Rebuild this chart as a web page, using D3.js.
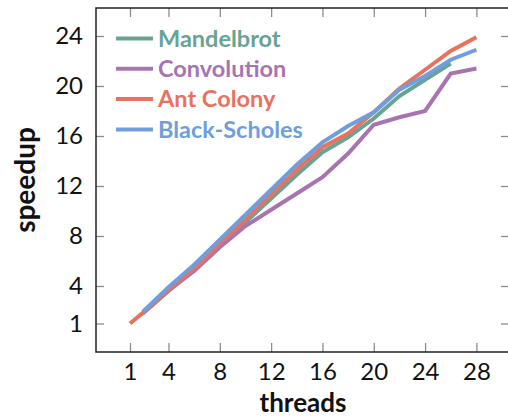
<!DOCTYPE html>
<html>
<head>
<meta charset="utf-8">
<script src="https://cdn.jsdelivr.net/npm/d3@7"></script>
<style>
  body { margin: 0; background: #fff; }
  svg { display: block; font-family: Lato, "Open Sans", sans-serif; }
</style>
</head>
<body>
<svg id="chart" width="508" height="418"></svg>
<script>
'use strict';

// data
var threads = [1, 2, 4, 6, 8, 10, 12, 14, 16, 18, 20, 22, 24, 26, 28];
var mandelbrot   = [null, 1.8, 3.6, 5.3, 7.3, 9.1, 11.0, 12.9, 14.7, 15.9, 17.4, 19.2, 20.5, 21.8, null];
var convolution  = [null, 1.85, 3.65, 5.2, 7.1, 8.8, 10.1, 11.4, 12.7, 14.6, 16.9, 17.5, 18.0, 21.0, 21.4];
var antColony    = [1.0, 1.85, 3.7, 5.4, 7.4, 9.3, 11.3, 13.3, 15.1, 16.2, 17.9, 19.8, 21.3, 22.8, 23.9];
var blackScholes = [null, 1.95, 3.9, 5.7, 7.7, 9.7, 11.7, 13.7, 15.5, 16.8, 17.9, 19.7, 20.8, 22.1, 22.9];

var seriesNames  = ['Mandelbrot', 'Convolution', 'Ant Colony', 'Black-Scholes'];
var seriesValues = [mandelbrot, convolution, antColony, blackScholes];
var seriesColors = ['#68a394', '#a874b0', '#e8725f', '#6e9fdc'];

var xTicks = [1, 4, 8, 12, 16, 20, 24, 28];
var yTicks = [1, 4, 8, 12, 16, 20, 24];

var svg = d3.select('#chart');

var box = {left: 96, top: 8, right: 509, bottom: 352};

var xScale = d3.scaleLinear()
    .domain([-1.65, 30.54])
    .range([box.left, box.right]);

var yScale = d3.scaleLinear()
    .domain([-1.28, 26.24])
    .range([box.bottom, box.top]);

// ticks, all pointing inward
var xAxis = d3.axisBottom(xScale).tickValues(xTicks).tickSize(-9).tickPadding(11);
var xAxisTop = d3.axisTop(xScale).tickValues(xTicks).tickSize(-9).tickFormat('');
var yAxis = d3.axisLeft(yScale).tickValues(yTicks).tickSize(-8).tickPadding(13);
var yAxisRight = d3.axisRight(yScale).tickValues(yTicks).tickSize(-8).tickFormat('');

svg.append('g')
    .attr('transform', 'translate(0,' + box.bottom + ')')
    .call(xAxis);
svg.append('g')
    .attr('transform', 'translate(0,' + box.top + ')')
    .call(xAxisTop);
svg.append('g')
    .attr('transform', 'translate(' + box.left + ',0)')
    .call(yAxis);
svg.append('g')
    .attr('transform', 'translate(' + box.right + ',0)')
    .call(yAxisRight);

svg.selectAll('.domain').remove();
svg.selectAll('.tick line').attr('stroke', '#8c8c8c').attr('stroke-width', 1.3);
svg.selectAll('.tick text')
    .attr('fill', '#111')
    .style('font-size', '24px')
    .style('font-family', 'Lato, "Open Sans", sans-serif');

// frame
svg.append('rect')
    .attr('x', box.left)
    .attr('y', box.top)
    .attr('width', box.right - box.left)
    .attr('height', box.bottom - box.top)
    .attr('fill', 'none')
    .attr('stroke', '#222')
    .attr('stroke-width', 1.5);

// lines
var line = d3.line()
    .defined(function(d) { return d.v != null; })
    .x(function(d) { return xScale(d.t); })
    .y(function(d) { return yScale(d.v); });

seriesValues.forEach(function(vals, i) {
    var pts = threads.map(function(t, j) { return {t: t, v: vals[j]}; });
    svg.append('path')
        .datum(pts)
        .attr('fill', 'none')
        .attr('stroke', seriesColors[i])
        .attr('stroke-width', 4)
        .attr('d', line);
});

// legend
var legend = svg.append('g');
seriesNames.forEach(function(name, i) {
    var y = 38.5 + i * 30.3;
    legend.append('line')
        .attr('x1', 116).attr('x2', 153)
        .attr('y1', y).attr('y2', y)
        .attr('stroke', seriesColors[i])
        .attr('stroke-width', 4);
    legend.append('text')
        .attr('x', 158)
        .attr('y', y)
        .attr('dy', '0.35em')
        .attr('fill', seriesColors[i])
        .style('font-size', '23.5px')
        .style('font-weight', 'bold')
        .text(name);
});

// axis titles
svg.append('text')
    .attr('transform', 'translate(25,180) rotate(-90)')
    .attr('text-anchor', 'middle')
    .attr('dy', '0.35em')
    .attr('fill', '#111')
    .style('font-size', '28px')
    .style('font-weight', 'bold')
    .text('speedup');

svg.append('text')
    .attr('x', 303)
    .attr('y', 412)
    .attr('text-anchor', 'middle')
    .attr('fill', '#111')
    .style('font-size', '26px')
    .style('font-weight', 'bold')
    .text('threads');
</script>
</body>
</html>
